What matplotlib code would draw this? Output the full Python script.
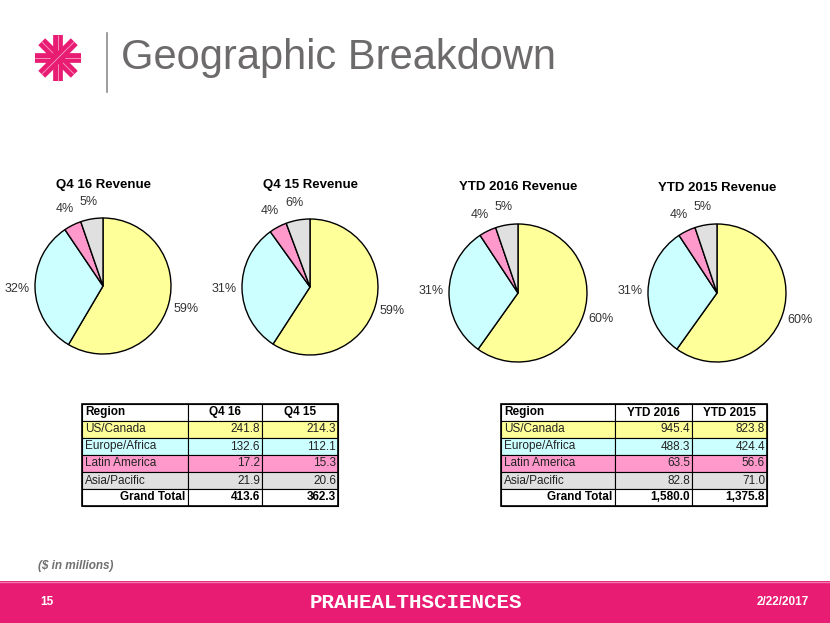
import numpy as np
import matplotlib.pyplot as plt
from matplotlib.patches import Rectangle

# data
regions = ['US/Canada', 'Europe/Africa', 'Latin America', 'Asia/Pacific']
q4_16 = [241.8, 132.6, 17.2, 21.9]
q4_15 = [214.3, 112.1, 15.3, 20.6]
ytd_16 = [945.4, 488.3, 63.5, 82.8]
ytd_15 = [823.8, 424.4, 56.6, 71.0]
totals_q4 = ['413.6', '362.3']
totals_ytd = ['1,580.0', '1,375.8']
# percentage labels as printed on the slide
pct_q4_16 = ['59%', '32%', '4%', '5%']
pct_q4_15 = ['59%', '31%', '4%', '6%']
pct_ytd_16 = ['60%', '31%', '4%', '5%']
pct_ytd_15 = ['60%', '31%', '4%', '5%']
pie_titles = ['Q4 16 Revenue', 'Q4 15 Revenue', 'YTD 2016 Revenue', 'YTD 2015 Revenue']

colors = ['#FFFF99', '#CCFFFF', '#FF99CC', '#E0E0E0']
pink = '#E91C73'
W, H = 830, 623

plt.rcParams['font.family'] = ['Liberation Sans', 'DejaVu Sans']

fig = plt.figure(figsize=(W / 100, H / 100), dpi=100)
bg = fig.add_axes([0, 0, 1, 1])
bg.set_xlim(0, W)
bg.set_ylim(H, 0)
bg.axis('off')

# header: logo, divider, title
cx, cy, rl = 58, 58, 23
for ang in [0, 45, 90, 135]:
    dx, dy = rl * np.cos(np.radians(ang)), rl * np.sin(np.radians(ang))
    bg.plot([cx - dx, cx + dx], [cy - dy, cy + dy], color=pink, lw=7, solid_capstyle='butt')
    bg.plot([cx - dx, cx + dx], [cy - dy, cy + dy], color='#F8A0C4', lw=0.6, solid_capstyle='butt')
bg.plot([107, 107], [33, 92], color='#8C8C8C', lw=1.2)
bg.text(121, 58, 'Geographic Breakdown', fontsize=30, color='#6D6A6B', va='center', ha='left')

# pies
pie_data = [q4_16, q4_15, ytd_16, ytd_15]
pie_pcts = [pct_q4_16, pct_q4_15, pct_ytd_16, pct_ytd_15]
centers = [(103, 286, 68), (310, 287, 68), (518, 293, 69), (717, 293, 69)]
title_y = [185, 185, 187, 188]
for vals, pcts, (px, py, r), title, ty in zip(pie_data, pie_pcts, centers, pie_titles, title_y):
    ax = fig.add_axes([(px - r) / W, 1 - (py + r) / H, 2 * r / W, 2 * r / H])
    ax.pie(vals, colors=colors, startangle=90, counterclock=False,
           wedgeprops=dict(edgecolor='black', linewidth=1))
    total = sum(vals)
    ang = 90
    for v, lab in zip(vals, pcts):
        span = 360 * v / total
        mid = np.radians(ang - span / 2)
        ang -= span
        d = 1.26
        ax.text(d * np.cos(mid), d * np.sin(mid), lab, ha='center', va='center',
                fontsize=9, color='#333333')
    ax.set_xlim(-1, 1)
    ax.set_ylim(-1, 1)
    ax.axis('off')
    bg.text(px, ty, title, ha='center', va='center', fontsize=9.5, fontweight='bold')


def draw_table(x_edges, y_edges, headers, left_vals, right_vals, totals):
    rows = [[regions[i], left_vals[i], right_vals[i]] for i in range(len(regions))]
    # header
    for j in range(3):
        bg.add_patch(Rectangle((x_edges[j], y_edges[0]), x_edges[j + 1] - x_edges[j],
                               y_edges[1] - y_edges[0], facecolor='white', edgecolor='black', lw=0.8))
    ym = (y_edges[0] + y_edges[1]) / 2
    bg.text(x_edges[0] + 3, ym, 'Region', ha='left', va='center', fontsize=8.5, fontweight='bold')
    for j, h in enumerate(headers):
        bg.text((x_edges[j + 1] + x_edges[j + 2]) / 2, ym, h, ha='center', va='center',
                fontsize=8.5, fontweight='bold')
    for i, row in enumerate(rows):
        y0, y1 = y_edges[i + 1], y_edges[i + 2]
        ym = (y0 + y1) / 2
        for j in range(3):
            bg.add_patch(Rectangle((x_edges[j], y0), x_edges[j + 1] - x_edges[j], y1 - y0,
                                   facecolor=colors[i], edgecolor='black', lw=0.8))
        bg.text(x_edges[0] + 3, ym, row[0], ha='left', va='center', fontsize=8.5, color='#222222')
        bg.text(x_edges[2] - 2, ym, f'{row[1]:.1f}', ha='right', va='center', fontsize=8.5, color='#222222')
        bg.text(x_edges[3] - 2, ym, f'{row[2]:.1f}', ha='right', va='center', fontsize=8.5, color='#222222')
    y0, y1 = y_edges[5], y_edges[6]
    ym = (y0 + y1) / 2
    for j in range(3):
        bg.add_patch(Rectangle((x_edges[j], y0), x_edges[j + 1] - x_edges[j], y1 - y0,
                               facecolor='white', edgecolor='black', lw=0.8))
    bg.text(x_edges[1] - 3, ym, 'Grand Total', ha='right', va='center', fontsize=8.5, fontweight='bold')
    bg.text(x_edges[2] - 2, ym, totals[0], ha='right', va='center', fontsize=8.5, fontweight='bold')
    bg.text(x_edges[3] - 2, ym, totals[1], ha='right', va='center', fontsize=8.5, fontweight='bold')
    bg.add_patch(Rectangle((x_edges[0], y_edges[0]), x_edges[3] - x_edges[0], y_edges[6] - y_edges[0],
                           facecolor='none', edgecolor='black', lw=1.2))


row_y = [404, 421, 438, 455, 472, 489, 506]
draw_table([82, 188, 262, 338], row_y, ['Q4 16', 'Q4 15'], q4_16, q4_15, totals_q4)
draw_table([501, 615, 692, 767], row_y, ['YTD 2016', 'YTD 2015'], ytd_16, ytd_15, totals_ytd)

# footnote and footer
bg.text(38, 566, '($ in millions)', ha='left', va='center', fontsize=8.5, style='italic',
        fontweight='bold', color='#707070')
bg.add_patch(Rectangle((0, 581), W, H - 581, facecolor=pink, edgecolor='none'))
bg.plot([0, W], [581.5, 581.5], color='#F27AAE', lw=1)
bg.text(47, 602, '15', ha='center', va='center', fontsize=8.5, fontweight='bold', color='white')
bg.text(416, 602, 'PRAHEALTHSCIENCES', ha='center', va='center', fontsize=15,
        fontweight='bold', color='white', family='Liberation Mono')
bg.text(783, 602, '2/22/2017', ha='center', va='center', fontsize=8.5, fontweight='bold', color='white')

fig.savefig('out.png', dpi=100)
